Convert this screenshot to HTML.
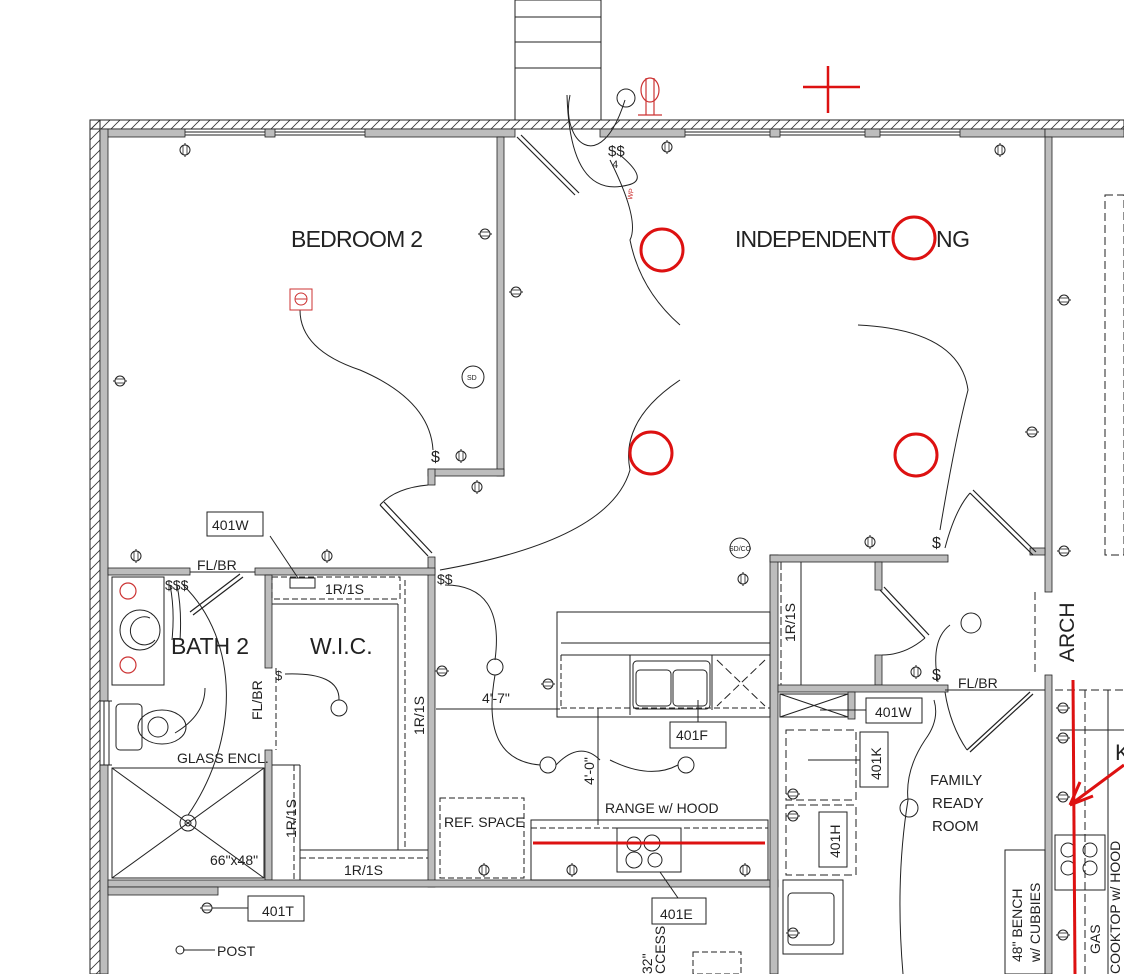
<!DOCTYPE html>
<html><head><meta charset="utf-8"><style>
html,body{margin:0;padding:0;background:#fff}
svg{display:block}
text{font-family:"Liberation Sans",sans-serif;fill:#222}
</style></head><body>
<svg width="1124" height="974" viewBox="0 0 1124 974" xmlns="http://www.w3.org/2000/svg">
<defs>
<pattern id="h" width="10" height="10" patternUnits="userSpaceOnUse"><path d="M0 10 L10 0" stroke="#333" stroke-width="0.8"/></pattern>
<g id="o"><line x1="0" y1="-7" x2="0" y2="7" stroke="#222" stroke-width="1"/><ellipse cx="0" cy="0" rx="5" ry="5" fill="#fff" stroke="#222" stroke-width="1"/><line x1="-2" y1="-5" x2="-2" y2="5" stroke="#222" stroke-width="0.8"/><line x1="2" y1="-5" x2="2" y2="5" stroke="#222" stroke-width="0.8"/></g>
<g id="oh"><line x1="-7" y1="0" x2="7" y2="0" stroke="#222" stroke-width="1"/><ellipse cx="0" cy="0" rx="5" ry="5" fill="#fff" stroke="#222" stroke-width="1"/><line x1="-5" y1="-2" x2="5" y2="-2" stroke="#222" stroke-width="0.8"/><line x1="-5" y1="2" x2="5" y2="2" stroke="#222" stroke-width="0.8"/></g>
</defs>
<g stroke="#222" stroke-width="1" fill="none">
<rect x="515" y="0" width="86" height="120"/>
<line x1="515" y1="17" x2="601" y2="17"/><line x1="515" y1="42" x2="601" y2="42"/><line x1="515" y1="68" x2="601" y2="68"/>
<rect x="90" y="120" width="1034" height="9" fill="url(#h)"/>
<rect x="90" y="120" width="10" height="854" fill="url(#h)"/>
</g>
<g fill="#bdbdbd" stroke="#222" stroke-width="0.8">
<rect x="100" y="129" width="85" height="8"/><rect x="265" y="129" width="10" height="8"/><rect x="365" y="129" width="150" height="8"/>
<rect x="600" y="129" width="85" height="8"/><rect x="770" y="129" width="10" height="8"/><rect x="865" y="129" width="15" height="8"/><rect x="960" y="129" width="85" height="8"/><rect x="1045" y="129" width="79" height="8"/>
<rect x="100" y="129" width="8" height="572"/><rect x="100" y="765" width="8" height="209"/>
<rect x="497" y="137" width="7" height="339"/>
<rect x="428" y="469" width="76" height="7"/><rect x="428" y="469" width="7" height="16"/>
<rect x="428" y="557" width="7" height="330"/>
<rect x="108" y="568" width="82" height="7"/><rect x="255" y="568" width="180" height="7"/>
<rect x="265" y="575" width="7" height="93"/><rect x="265" y="750" width="7" height="130"/>
<rect x="108" y="880" width="670" height="7"/><rect x="108" y="887" width="110" height="8"/>
<rect x="770" y="555" width="8" height="419"/><rect x="770" y="555" width="178" height="7"/>
<rect x="875" y="562" width="7" height="28"/><rect x="875" y="655" width="7" height="30"/>
<rect x="778" y="685" width="170" height="7"/><rect x="848" y="692" width="7" height="27"/>
<rect x="1045" y="137" width="7" height="455"/><rect x="1045" y="675" width="7" height="299"/>
<rect x="1030" y="548" width="15" height="7"/>
</g>
<g stroke="#222" stroke-width="1" fill="none">
<line x1="185" y1="132" x2="265" y2="132"/><line x1="185" y1="135" x2="265" y2="135"/>
<line x1="275" y1="132" x2="365" y2="132"/><line x1="275" y1="135" x2="365" y2="135"/>
<line x1="685" y1="132" x2="770" y2="132"/><line x1="685" y1="135" x2="770" y2="135"/>
<line x1="780" y1="132" x2="865" y2="132"/><line x1="780" y1="135" x2="865" y2="135"/>
<line x1="880" y1="132" x2="960" y2="132"/><line x1="880" y1="135" x2="960" y2="135"/>
<line x1="100" y1="701" x2="112" y2="701"/><line x1="100" y1="765" x2="112" y2="765"/><line x1="104" y1="701" x2="104" y2="765"/><line x1="109" y1="701" x2="109" y2="765"/>
<path d="M517 137 L575 195 M521 135 L579 193" stroke-width="1.2"/>
<path d="M380 505 L428 556 M384 502 L432 553" stroke-width="1.2"/>
<path d="M380 505 Q395 488 428 485"/>
<path d="M190 612 L240 574 M193 615 L243 577" stroke-width="1.2"/>
<path d="M880 590 L925 638 M884 587 L929 635" stroke-width="1.2"/>
<path d="M925 638 Q905 655 882 655"/>
<path d="M970 493 L1033 555 M973 490 L1036 552" stroke-width="1.2"/>
<path d="M945 548 Q955 510 970 493"/>
<path d="M967 750 L1030 692 M970 752 L1033 694" stroke-width="1.2"/>
<path d="M945 692 Q950 725 967 750"/>
<line x1="945" y1="690" x2="1045" y2="690"/>
<line x1="190" y1="572" x2="255" y2="572"/>
<rect x="112" y="577" width="52" height="108"/>
<circle cx="140" cy="630" r="20"/><path d="M150 618 a14 14 0 1 0 5 22"/>
<rect x="116" y="704" width="26" height="46" rx="4"/><ellipse cx="162" cy="727" rx="24" ry="17"/><circle cx="158" cy="727" r="10"/>
<rect x="112" y="768" width="152" height="110"/>
<line x1="112" y1="768" x2="264" y2="878"/><line x1="264" y1="768" x2="112" y2="878"/>
<circle cx="188" cy="823" r="8"/><circle cx="188" cy="823" r="3"/>
<path d="M205 688 Q205 715 175 733"/>
<path d="M183 585 C240 640 240 740 188 815"/>
<path d="M170 585 Q175 610 172 640"/><path d="M177 585 Q182 610 180 640"/>
<rect x="272" y="577" width="128" height="22" stroke-dasharray="6 3"/>
<line x1="272" y1="604" x2="398" y2="604"/><line x1="398" y1="604" x2="398" y2="850"/>
<line x1="405" y1="580" x2="405" y2="850" stroke-dasharray="6 3"/>
<line x1="272" y1="765" x2="300" y2="765"/><line x1="300" y1="765" x2="300" y2="880"/>
<line x1="294" y1="765" x2="294" y2="880" stroke-dasharray="6 3"/>
<line x1="300" y1="850" x2="428" y2="850"/><line x1="300" y1="858" x2="428" y2="858" stroke-dasharray="6 3"/>
<line x1="276" y1="668" x2="276" y2="750" stroke-dasharray="6 3"/>
<path d="M285 674 Q340 672 339 700"/><circle cx="339" cy="708" r="8"/>
<rect x="207" y="512" width="56" height="24"/><path d="M270 536 L298 578"/>
<rect x="290" y="578" width="25" height="10"/>
<path d="M300 310 Q300 350 360 370 Q430 400 433 450"/>
<rect x="290" y="289" width="22" height="21" stroke="#c33"/><circle cx="301" cy="299" r="6" stroke="#c33"/><line x1="295" y1="299" x2="307" y2="299" stroke="#c33"/>
<circle cx="473" cy="377" r="11"/>
<path d="M567 95 Q570 200 628 185 Q650 180 620 155 M570 95 C560 140 600 180 625 100"/>
<circle cx="626" cy="98" r="9"/>
<path d="M610 160 Q640 220 630 240 Q640 290 680 325"/>
<path d="M680 380 Q620 420 630 470 Q610 540 440 570"/>
<path d="M858 325 Q960 330 968 390 Q955 440 940 530"/>
<path d="M445 585 Q505 585 495 660"/><circle cx="495" cy="667" r="8"/>
<path d="M495 675 Q480 760 540 765"/><circle cx="548" cy="765" r="8"/>
<path d="M556 765 Q580 740 600 760"/><path d="M610 760 Q650 780 678 765"/><circle cx="686" cy="765" r="8"/>
<circle cx="740" cy="548" r="10"/>
<line x1="436" y1="709" x2="560" y2="709"/><line x1="598" y1="708" x2="598" y2="825"/>
<rect x="557" y="612" width="213" height="105"/><line x1="561" y1="643" x2="770" y2="643"/><line x1="561" y1="655" x2="770" y2="655"/>
<line x1="561" y1="708" x2="770" y2="708" stroke-dasharray="6 3"/><line x1="561" y1="655" x2="561" y2="708" stroke-dasharray="6 3"/>
<line x1="630" y1="655" x2="630" y2="715"/>
<rect x="633" y="661" width="77" height="48" rx="4"/><rect x="636" y="670" width="35" height="36" rx="4"/><rect x="673" y="670" width="34" height="36" rx="4"/>
<line x1="712" y1="655" x2="712" y2="710"/><path d="M717 660 L765 706 M765 660 L717 706" stroke-dasharray="8 4"/>
<rect x="670" y="722" width="56" height="26"/><line x1="698" y1="700" x2="698" y2="722"/>
<rect x="440" y="798" width="84" height="80" stroke-dasharray="6 3"/>
<rect x="531" y="820" width="237" height="60"/><line x1="531" y1="828" x2="768" y2="828" stroke-dasharray="6 3"/>
<rect x="617" y="828" width="64" height="44"/><circle cx="634" cy="844" r="7"/><circle cx="652" cy="843" r="8"/><circle cx="634" cy="860" r="8"/><circle cx="655" cy="860" r="7"/>
<rect x="652" y="898" width="54" height="26"/><line x1="678" y1="898" x2="660" y2="872"/>
<rect x="693" y="952" width="48" height="22" stroke-dasharray="6 3"/>
<rect x="248" y="896" width="56" height="25"/><line x1="214" y1="908" x2="248" y2="908"/>
<line x1="183" y1="950" x2="215" y2="950"/><circle cx="180" cy="950" r="4"/>
<line x1="781" y1="562" x2="781" y2="685" stroke-dasharray="8 3"/><line x1="801" y1="562" x2="801" y2="685"/>
<rect x="780" y="694" width="68" height="23"/><path d="M780 694 L848 717 M848 694 L780 717"/>
<rect x="866" y="698" width="56" height="25"/><line x1="820" y1="710" x2="866" y2="710"/>
<rect x="786" y="730" width="70" height="70" stroke-dasharray="8 4"/><rect x="786" y="805" width="70" height="70" stroke-dasharray="8 4"/>
<rect x="860" y="732" width="28" height="55"/><line x1="808" y1="760" x2="860" y2="760"/>
<rect x="819" y="812" width="28" height="55"/>
<rect x="783" y="880" width="60" height="74"/><rect x="788" y="893" width="46" height="52" rx="4"/>
<line x1="1035" y1="592" x2="1035" y2="675" stroke-dasharray="8 4"/>
<path d="M934 700 Q940 720 925 740 Q905 770 908 800 Q895 880 903 974"/><circle cx="909" cy="808" r="9"/>
<path d="M938 682 Q930 640 950 625"/><circle cx="971" cy="623" r="10"/>
<rect x="1005" y="850" width="40" height="124"/>
<rect x="1105" y="195" width="19" height="360" stroke-dasharray="8 4"/>
<rect x="1055" y="835" width="50" height="55"/><circle cx="1068" cy="850" r="7"/><circle cx="1090" cy="850" r="7"/><circle cx="1068" cy="868" r="7"/><circle cx="1090" cy="868" r="7"/>
<line x1="1055" y1="690" x2="1124" y2="690" stroke-dasharray="8 4"/><line x1="1085" y1="690" x2="1085" y2="974" stroke-dasharray="8 4"/>
<line x1="1108" y1="690" x2="1108" y2="974"/>
<line x1="1060" y1="730" x2="1124" y2="730"/>
</g>
<g>
<use href="#o" x="185" y="150"/><use href="#o" x="667" y="147"/><use href="#o" x="1000" y="150"/>
<use href="#oh" x="485" y="234"/><use href="#oh" x="516" y="292"/><use href="#oh" x="120" y="381"/>
<use href="#o" x="461" y="456"/><use href="#o" x="477" y="487"/>
<use href="#o" x="136" y="556"/><use href="#o" x="327" y="556"/><use href="#o" x="870" y="542"/>
<use href="#oh" x="1064" y="300"/><use href="#oh" x="1032" y="432"/><use href="#oh" x="1064" y="551"/>
<use href="#oh" x="442" y="671"/><use href="#oh" x="548" y="684"/>
<use href="#o" x="484" y="870"/><use href="#o" x="572" y="870"/><use href="#o" x="745" y="870"/>
<use href="#oh" x="207" y="908"/><use href="#o" x="916" y="672"/><use href="#o" x="743" y="579"/>
<use href="#oh" x="1063" y="708"/><use href="#oh" x="1063" y="738"/><use href="#oh" x="1063" y="797"/><use href="#oh" x="1063" y="935"/>
<use href="#oh" x="793" y="794"/><use href="#oh" x="793" y="816"/><use href="#oh" x="793" y="933"/>
</g>
<g stroke="#d11" fill="none" stroke-width="3">
<circle cx="662" cy="250" r="21"/><circle cx="914" cy="238" r="21"/><circle cx="651" cy="453" r="21"/><circle cx="916" cy="455" r="21"/>
<line x1="803" y1="87" x2="860" y2="87" stroke-width="2.5"/><line x1="828" y1="66" x2="828" y2="113" stroke-width="2.5"/>
<line x1="533" y1="843" x2="765" y2="843"/>
<line x1="1073" y1="680" x2="1075" y2="974"/>
<path d="M1124 765 L1070 805 L1093 796 M1070 805 L1080 782"/>
</g>
<g stroke="#c33" fill="none" stroke-width="1.2"><ellipse cx="650" cy="90" rx="9" ry="12"/><line x1="646" y1="78" x2="646" y2="115"/><line x1="654" y1="78" x2="654" y2="115"/><line x1="638" y1="115" x2="662" y2="115"/>
<circle cx="128" cy="591" r="8"/><circle cx="128" cy="665" r="8"/></g>
<text x="291" y="247" font-size="23" textLength="132">BEDROOM 2</text>
<text x="735" y="247" font-size="23" textLength="156">INDEPENDENT</text>
<text x="936" y="247" font-size="23" textLength="34">NG</text>
<text x="171" y="654" font-size="23" textLength="78">BATH 2</text>
<text x="310" y="654" font-size="23">W.I.C.</text>
<text x="212" y="530" font-size="14">401W</text>
<text x="197" y="570" font-size="14">FL/BR</text>
<text x="325" y="594" font-size="14">1R/1S</text>
<text x="344" y="875" font-size="14">1R/1S</text>
<text x="177" y="763" font-size="14">GLASS ENCL.</text>
<text x="210" y="865" font-size="14">66"x48"</text>
<text x="262" y="916" font-size="14">401T</text>
<text x="217" y="956" font-size="14">POST</text>
<text x="444" y="827" font-size="14">REF. SPACE</text>
<text x="605" y="813" font-size="14">RANGE w/ HOOD</text>
<text x="482" y="703" font-size="14">4'-7"</text>
<text x="676" y="740" font-size="14">401F</text>
<text x="660" y="919" font-size="14">401E</text>
<text x="875" y="717" font-size="14">401W</text>
<text x="958" y="688" font-size="14">FL/BR</text>
<text x="930" y="785" font-size="15">FAMILY</text>
<text x="932" y="808" font-size="15">READY</text>
<text x="932" y="831" font-size="15">ROOM</text>
<text x="1115" y="760" font-size="22">K</text>
<text x="431" y="462" font-size="16">$</text><text x="932" y="680" font-size="16">$</text><text x="932" y="548" font-size="16">$</text>
<text x="608" y="156" font-size="15">$$</text><text x="612" y="168" font-size="11">4</text>
<text x="165" y="590" font-size="14">$$$</text>
<text x="275" y="680" font-size="13">$</text>
<text x="437" y="584" font-size="14">$$</text>
<g font-size="14">
<text transform="translate(262,720) rotate(-90)">FL/BR</text>
<text transform="translate(424,735) rotate(-90)">1R/1S</text>
<text transform="translate(296,838) rotate(-90)">1R/1S</text>
<text transform="translate(795,642) rotate(-90)">1R/1S</text>
<text transform="translate(594,785) rotate(-90)">4'-0"</text>
<text transform="translate(881,780) rotate(-90)">401K</text>
<text transform="translate(840,858) rotate(-90)">401H</text>
<text transform="translate(1022,962) rotate(-90)">48" BENCH</text>
<text transform="translate(1040,962) rotate(-90)">w/ CUBBIES</text>
<text transform="translate(1100,954) rotate(-90)">GAS</text>
<text transform="translate(1120,974) rotate(-90)">COOKTOP w/ HOOD</text>
<text transform="translate(665,974) rotate(-90)">CCESS</text>
<text transform="translate(652,974) rotate(-90)">32"</text>
</g>
<text transform="translate(1074,662) rotate(-90)" font-size="21">ARCH</text>
<text x="729" y="551" font-size="7">SD/CO</text><text x="467" y="380" font-size="7">SD</text>
<text transform="translate(632,200) rotate(-80)" font-size="7" style="fill:#c33">WP</text>
</svg>
</body></html>
